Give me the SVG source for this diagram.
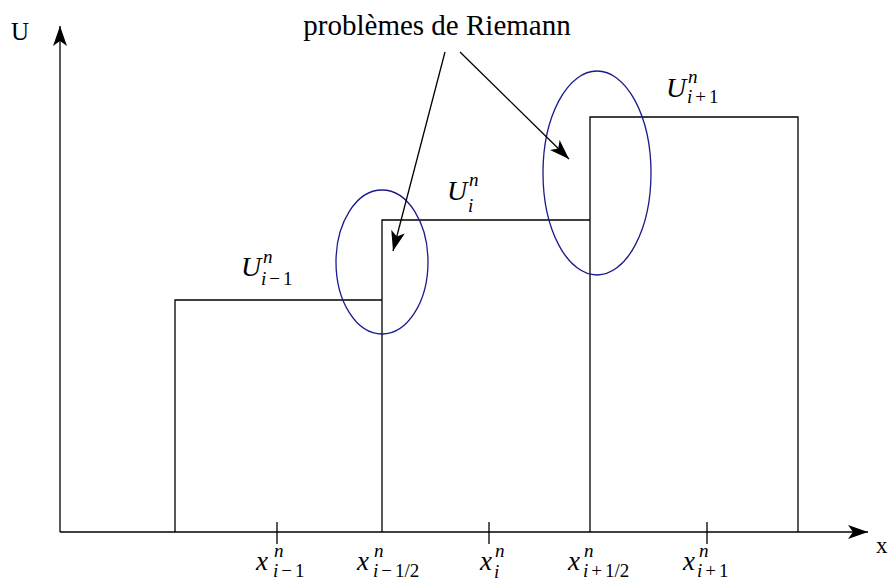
<svg xmlns="http://www.w3.org/2000/svg" width="890" height="586" viewBox="0 0 890 586">
<style>
.ln{stroke:#000;stroke-width:1.3;fill:none}
.el{stroke:#1a1a8c;stroke-width:1.3;fill:none}
.t{font-family:"Liberation Serif","DejaVu Serif",serif;fill:#000}
.m{font-family:"Liberation Serif","DejaVu Serif",serif;font-style:italic;fill:#000}
.big{font-size:28px}
.sm{font-size:19px}
.up{font-style:normal}
</style>
<defs>
<marker id="ah" viewBox="0 0 20 14" refX="20" refY="7" markerWidth="20" markerHeight="14" markerUnits="userSpaceOnUse" orient="auto">
<path d="M0,0 L20,7 L0,14 L5,7 Z" fill="#000"/>
</marker>
</defs>
<rect width="890" height="586" fill="#fff"/>
<g id="axes">
<line class="ln" x1="60" y1="532" x2="60" y2="26" marker-end="url(#ah)"/>
<line class="ln" x1="60" y1="532" x2="868" y2="532" marker-end="url(#ah)"/>
<line class="ln" x1="277" y1="522" x2="277" y2="544"/>
<line class="ln" x1="489" y1="522" x2="489" y2="544"/>
<line class="ln" x1="707" y1="522" x2="707" y2="544"/>
<text class="t" x="11" y="40" font-size="25">U</text>
<text class="t" x="876" y="553" font-size="23">x</text>
</g>
<g id="step1"><polyline class="ln" points="175,532 175,300 382,300"/></g>
<g id="step2"><polyline class="ln" points="382,532 382,220 590,220"/></g>
<g id="step3"><polyline class="ln" points="590,532 590,117 798,117 798,532"/></g>
<g id="ellipse1"><ellipse class="el" cx="382" cy="262" rx="46" ry="72"/></g>
<g id="ellipse2"><ellipse class="el" cx="597" cy="173" rx="54" ry="102"/></g>
<g id="title"><text class="t" x="437" y="35" font-size="29" text-anchor="middle">problèmes de Riemann</text></g>
<g id="connectors">
<line class="ln" x1="445" y1="52" x2="393" y2="251" marker-end="url(#ah)"/>
<line class="ln" x1="460" y1="52" x2="569" y2="159" marker-end="url(#ah)"/>
</g>
<g id="labelU1"><text class="m big" x="241" y="276">U</text><text class="m sm" x="263" y="263">n</text><text class="m sm" x="261" y="285">i<tspan class="up" dx="3">−</tspan><tspan class="up" dx="3">1</tspan></text></g>
<g id="labelU2"><text class="m big" x="447" y="200">U</text><text class="m sm" x="469" y="186">n</text><text class="m sm" x="468" y="212">i</text></g>
<g id="labelU3"><text class="m big" x="666" y="97">U</text><text class="m sm" x="688" y="83">n</text><text class="m sm" x="687" y="103">i<tspan class="up" dx="3">+</tspan><tspan class="up" dx="3">1</tspan></text></g>
<g id="labelx1"><text class="m" x="256" y="570" font-size="27">x</text><text class="m sm" x="274" y="557">n</text><text class="m sm" x="273" y="577">i<tspan class="up" dx="3">−</tspan><tspan class="up" dx="3">1</tspan></text></g>
<g id="labelx2"><text class="m" x="357" y="570" font-size="27">x</text><text class="m sm" x="374" y="557">n</text><text class="m sm" x="373" y="577">i<tspan class="up" dx="3">−</tspan><tspan class="up" dx="3">1/2</tspan></text></g>
<g id="labelx3"><text class="m" x="480" y="570" font-size="27">x</text><text class="m sm" x="495" y="557">n</text><text class="m sm" x="494" y="578">i</text></g>
<g id="labelx4"><text class="m" x="568" y="570" font-size="27">x</text><text class="m sm" x="584" y="557">n</text><text class="m sm" x="583" y="577">i<tspan class="up" dx="3">+</tspan><tspan class="up" dx="3">1/2</tspan></text></g>
<g id="labelx5"><text class="m" x="683" y="570" font-size="27">x</text><text class="m sm" x="699" y="557">n</text><text class="m sm" x="697" y="577">i<tspan class="up" dx="3">+</tspan><tspan class="up" dx="3">1</tspan></text></g>
</svg>
